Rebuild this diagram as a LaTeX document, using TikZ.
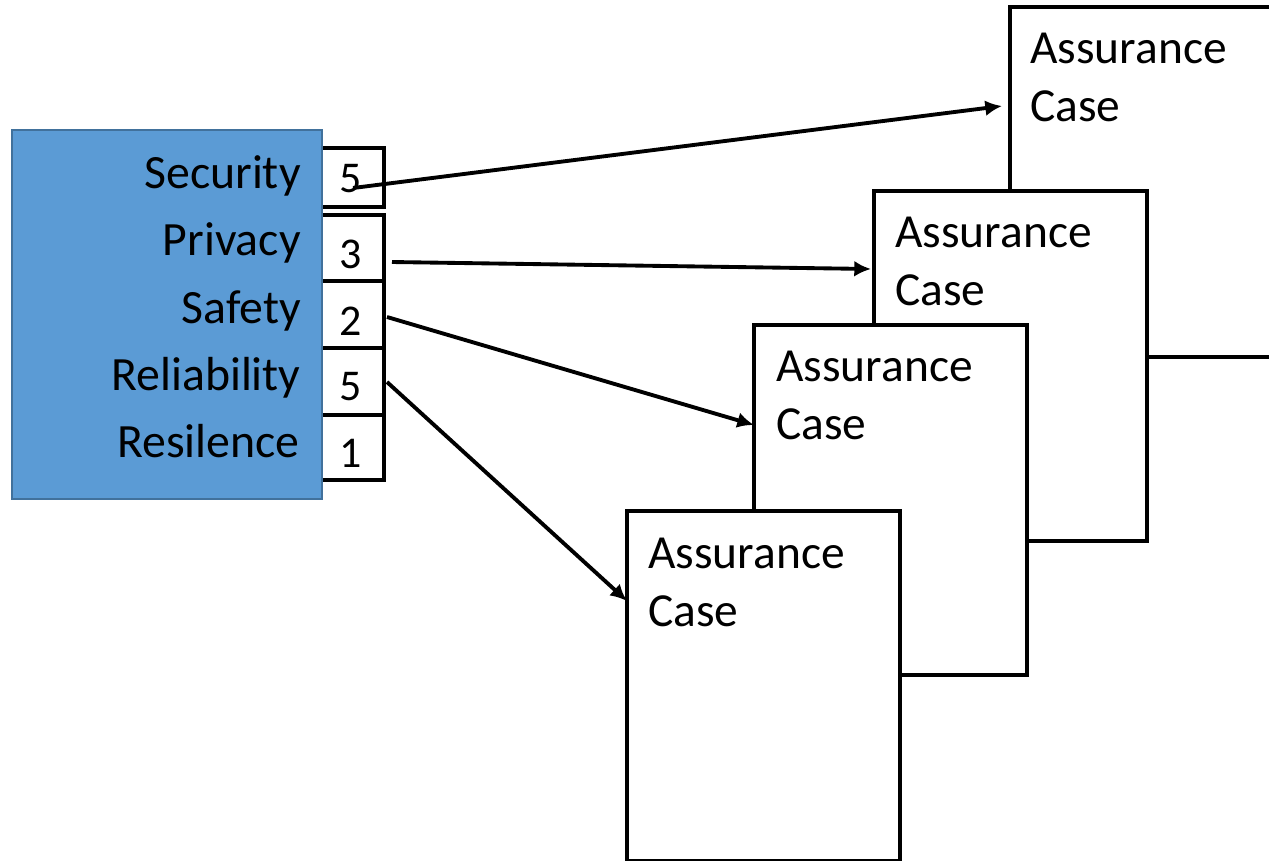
\documentclass[tikz,border=0pt]{standalone}
\usepackage{fontspec}
\setmainfont{Carlito}
\usetikzlibrary{arrows.meta,positioning}
\definecolor{attrblue}{HTML}{5B9BD5}
\definecolor{attredge}{HTML}{41719C}
\tikzset{
    attrs/.style={
    rectangle,draw=attredge,fill=attrblue,line width=0.8pt,minimum width=6.2cm,minimum height=7.38cm,inner sep=0pt,outer sep=0pt
    },
    attr/.style={
    anchor=base east,inner sep=0pt,font=\fontsize{27.2}{32}\selectfont
    },
    level/.style={
    rectangle,draw=black,fill=white,line width=2.2pt,minimum width=1.38cm,inner sep=0pt,outer sep=0pt
    },
    levelnum/.style={
    anchor=base,inner sep=0pt,font=\fontsize{25}{30}\selectfont
    },
    case/.style={
    rectangle,draw=black,fill=white,line width=1.8pt,anchor=north west,minimum width=5.46cm,minimum height=7cm,inner sep=0pt,outer sep=0pt
    },
    casetext/.style={
    anchor=north west,align=left,inner sep=0pt,font=\fontsize{27}{33}\selectfont
    },
}
\begin{document}
\begin{tikzpicture}[x=0.02cm, y=-0.02cm, >={Latex[length=9.5pt,width=9pt]}]
   \path[use as bounding box, clip] (0,0) rectangle (1269,860);
   %levels
   \node[level, minimum height=1.18cm] (secl) at (349.5,177.5) {};
   \node[level, minimum height=1.32cm] (privl) at (349.5,248) {};
   \node[level, minimum height=1.34cm] (safel) at (349.5,314.5) {};
   \node[level, minimum height=1.34cm] (relil) at (349.5,381.5) {};
   \node[level, minimum height=1.30cm] (resil) at (349.5,447.5) {};
   %attributes
   \node[attrs] (attrs) at (167,314.5) {};
   \node[attr] (sec) at (301,188) {Security};
   \node[attr] (priv) at (301,255) {Privacy};
   \node[attr] (safe) at (301,323) {Safety};
   \node[attr] (reli) at (301,390) {Reliability};
   \node[attr] (resi) at (300,457) {Resilence};
   %values
   \node[levelnum] (secn) at (351,192) {5};
   \node[levelnum] (privn) at (351,268) {3};
   \node[levelnum] (safen) at (351,335) {2};
   \node[levelnum] (relin) at (351,400) {5};
   \node[levelnum] (resin) at (351,467) {1};
   %caseA
   \node[case] (caseA) at (1010,7) {};
   \node[casetext] (caseAt) [below right = 0.52cm and 0.4cm of caseA.north west] {Assurance\\Case};
   %caseB
   \node[case] (caseB) at (874,191) {};
   \node[casetext] (caseBt) [below right = 0.52cm and 0.42cm of caseB.north west] {Assurance\\Case};
   %caseC
   \node[case] (caseC) at (754,325) {};
   \node[casetext] (caseCt) [below right = 0.52cm and 0.44cm of caseC.north west] {Assurance\\Case};
   %caseD
   \node[case] (caseD) at (627,511) {};
   \node[casetext] (caseDt) [below right = 0.54cm and 0.42cm of caseD.north west] {Assurance\\Case};
   %ends
   \coordinate (secout) at (353,188);
   \coordinate (privout) at (392,262);
   \coordinate (safeout) at (387,317);
   \coordinate (reliout) at (387,382);
   \coordinate (caseAin) at (1002,106);
   \coordinate (caseBin) at (871,269);
   \coordinate (caseCin) at (754,425);
   \coordinate (caseDin) at (627,601);

   \path[->, line width=2.2pt]
    (secout) edge node {} (caseAin)
    (privout) edge node {} (caseBin)
    (safeout) edge node {} (caseCin)
    (reliout) edge node {} (caseDin)
   ;
\end{tikzpicture}
\end{document}
